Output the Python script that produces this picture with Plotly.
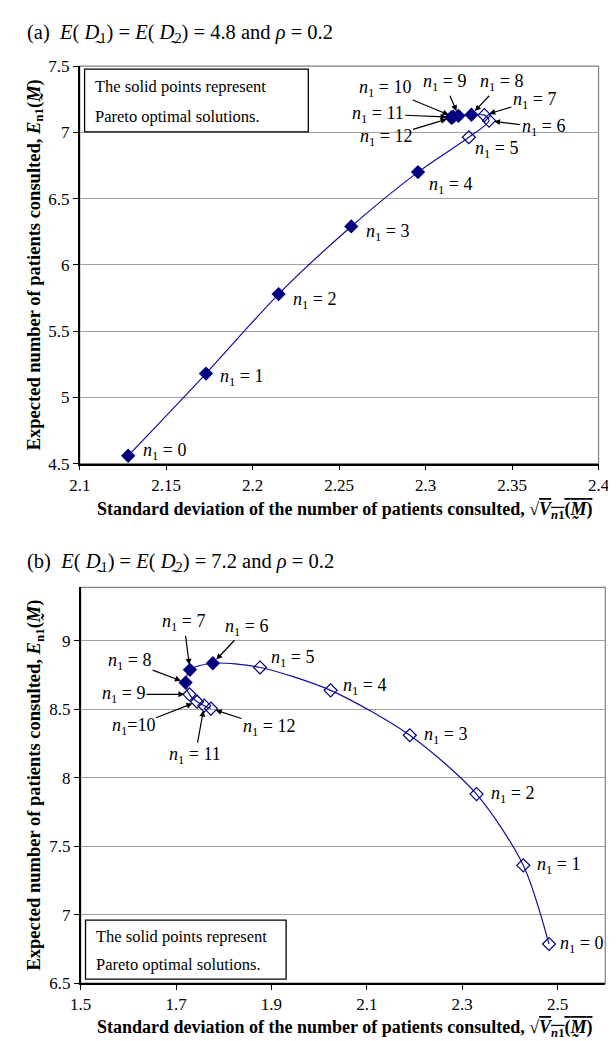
import plotly.graph_objects as go

# ---------------- data ----------------
n1_values = list(range(13))

# (a) E(D1)=E(D2)=4.8, rho=0.2
a_sd = [2.128, 2.173, 2.215, 2.257, 2.2956, 2.325, 2.3367, 2.334, 2.3265, 2.319, 2.316, 2.315, 2.315]
a_mean = [4.56, 5.18, 5.78, 6.29, 6.70, 6.963, 7.088, 7.13, 7.133, 7.125, 7.118, 7.115, 7.11]
a_pareto = [True, True, True, True, True, False, False, False, True, True, True, True, True]

# (b) E(D1)=E(D2)=7.2, rho=0.2
b_sd = [2.482, 2.428, 2.33, 2.19, 2.024, 1.876, 1.777, 1.729, 1.72, 1.728, 1.744, 1.759, 1.773]
b_mean = [6.785, 7.36, 7.88, 8.31, 8.638, 8.805, 8.836, 8.788, 8.695, 8.609, 8.555, 8.526, 8.505]
b_pareto = [False, False, False, False, False, False, True, True, True, False, False, False, False]

a_xticks = [2.1, 2.15, 2.2, 2.25, 2.3, 2.35, 2.4]
a_yticks = [4.5, 5, 5.5, 6, 6.5, 7, 7.5]
b_xticks = [1.5, 1.7, 1.9, 2.1, 2.3, 2.5]
b_yticks = [6.5, 7, 7.5, 8, 8.5, 9]

note_lines = ["The solid points represent", "Pareto optimal solutions."]

# ---------------- style ----------------
W, H = 616, 1041
FONT = "Liberation Serif, Times New Roman, serif"
LINE = "#10109a"
MARK = "#000080"
LBL = 18

def px_x(p):
    return p / W

def px_y(p):
    return 1 - p / H

fig = go.Figure()

def add_series(xs, ys, pareto, xa, ya):
    fig.add_trace(go.Scatter(x=xs, y=ys, mode="lines", line=dict(color=LINE, width=1.2, shape="spline", smoothing=0.8),
                             xaxis=xa, yaxis=ya, showlegend=False, hoverinfo="skip"))
    sx = [x for x, p in zip(xs, pareto) if p]
    sy = [y for y, p in zip(ys, pareto) if p]
    ox = [x for x, p in zip(xs, pareto) if not p]
    oy = [y for y, p in zip(ys, pareto) if not p]
    fig.add_trace(go.Scatter(x=ox, y=oy, mode="markers", xaxis=xa, yaxis=ya, showlegend=False,
                             marker=dict(symbol="diamond-open", size=10, color=MARK, line=dict(width=1.2, color=MARK))))
    fig.add_trace(go.Scatter(x=sx, y=sy, mode="markers", xaxis=xa, yaxis=ya, showlegend=False,
                             marker=dict(symbol="diamond", size=11, color=MARK, line=dict(width=0))))

add_series(a_sd, a_mean, a_pareto, "x", "y")
add_series(b_sd, b_mean, b_pareto, "x2", "y2")

# plot areas (pixels)
A = dict(l=63, r=601, t=50, b=455)
B = dict(l=64, r=608, t=581, b=984)

axis_common = dict(showline=True, linecolor="black", linewidth=1.5, ticks="outside", ticklen=5,
                   tickcolor="black", tickfont=dict(family=FONT, size=17, color="black"), zeroline=False)

fig.update_layout(
    width=W, height=H, margin=dict(l=0, r=0, t=0, b=0),
    paper_bgcolor="white", plot_bgcolor="white",
    xaxis=dict(domain=[px_x(A["l"]), px_x(A["r"])], range=[2.1, 2.4], tickvals=a_xticks,
               showgrid=False, anchor="y", **axis_common),
    yaxis=dict(domain=[px_y(A["b"]), px_y(A["t"])], range=[4.5, 7.5], tickvals=a_yticks,
               showgrid=True, gridcolor="#a0a0a0", gridwidth=1, anchor="x", **axis_common),
    xaxis2=dict(domain=[px_x(B["l"]), px_x(B["r"])], range=[1.5, 2.6], tickvals=b_xticks,
                showgrid=False, anchor="y2", **axis_common),
    yaxis2=dict(domain=[px_y(B["b"]), px_y(B["t"])], range=[6.5, 9.39], tickvals=b_yticks,
                showgrid=True, gridcolor="#a0a0a0", gridwidth=1, anchor="x2", **axis_common),
)

# gray frame (top/right) of each plot area
for xr, yr in (("x", "y"), ("x2", "y2")):
    fig.add_shape(type="rect", xref=f"{xr} domain", yref=f"{yr} domain", x0=0, x1=1, y0=0, y1=1,
                  line=dict(color="#808080", width=1.2), layer="below")

annots = []

def lab(n, eq=" = "):
    return f"<i>n</i><sub>1</sub>{eq}{n}"

# top labels without arrows: (n, dx, dy) offsets in px
a_plain = [(0, 36, -4), (1, 36, 4), (2, 36, 6), (3, 36, 6), (4, 32, 13), (5, 28, 12)]
for n, dx, dy in a_plain:
    annots.append(dict(x=a_sd[n], y=a_mean[n], xref="x", yref="y", text=lab(n), showarrow=False,
                       xshift=dx, yshift=-dy, font=dict(family=FONT, size=LBL, color="black")))
a_arrow = [(6, 54, 7), (7, 50, -15), (8, 30, -32), (9, -14, -33), (10, -68, -28), (11, -74, -3), (12, -66, 20)]
for n, dx, dy in a_arrow:
    annots.append(dict(x=a_sd[n], y=a_mean[n], xref="x", yref="y", ax=dx, ay=dy, text=lab(n), showarrow=True,
                       arrowhead=2, arrowsize=1, arrowwidth=1.2, arrowcolor="black", standoff=5,
                       font=dict(family=FONT, size=LBL, color="black")))

b_plain = [(0, 32, 0), (1, 35, 0), (2, 36, 0), (3, 36, 0), (4, 34, -4), (5, 32, -9)]
for n, dx, dy in b_plain:
    annots.append(dict(x=b_sd[n], y=b_mean[n], xref="x2", yref="y2", text=lab(n), showarrow=False,
                       xshift=dx, yshift=-dy, font=dict(family=FONT, size=LBL, color="black")))
b_arrow = [(6, 34, -36, " = "), (7, -6, -47, " = "), (8, -56, -21, " = "), (9, -66, 0, " = "),
           (10, -64, 25, "="), (11, -9, 50, " = "), (12, 58, 19, " = ")]
for n, dx, dy, eq in b_arrow:
    annots.append(dict(x=b_sd[n], y=b_mean[n], xref="x2", yref="y2", ax=dx, ay=dy, text=lab(n, eq), showarrow=True,
                       arrowhead=2, arrowsize=1, arrowwidth=1.2, arrowcolor="black", standoff=5,
                       font=dict(family=FONT, size=LBL, color="black")))

# titles
def title_text(tag, val):
    return (f"({tag})  <i>E</i>( <i>D\u0330</i><sub>1</sub>) = <i>E</i>( <i>D\u0330</i><sub>2</sub>) = {val}"
            f" and <i>\u03c1</i> = 0.2")

annots.append(dict(x=px_x(6), y=px_y(17), xref="paper", yref="paper", xanchor="left", yanchor="middle",
                   showarrow=False, font=dict(family=FONT, size=20.5, color="black"), text=title_text("a", "4.8")))
annots.append(dict(x=px_x(6), y=px_y(556), xref="paper", yref="paper", xanchor="left", yanchor="middle",
                   showarrow=False, font=dict(family=FONT, size=20.5, color="black"), text=title_text("b", "7.2")))

xtitle = ("<b>Standard deviation of the number of patients consulted, \u221a"
          "<span style='text-decoration:overline'><i>V</i><sub><i>n</i>1</sub>(<i>M\u0330</i>)</span></b>")
ytitle = "<b>Expected number of patients consulted, <i>E</i><sub>n1</sub>(<i>M\u0330</i>)</b>"
for yc in (503, 1030):
    annots.append(dict(x=px_x(338), y=px_y(yc), xref="paper", yref="paper", xanchor="center", yanchor="middle",
                       showarrow=False, font=dict(family=FONT, size=18, color="black"), text=xtitle))
for yc in ((50 + 455) / 2, (581 + 984) / 2):
    annots.append(dict(x=px_x(17), y=px_y(yc), xref="paper", yref="paper", xanchor="center", yanchor="middle",
                       showarrow=False, textangle=-90, font=dict(family=FONT, size=18.5, color="black"), text=ytitle))

# note boxes: (left, top, right, bottom) in px
for (l, t, r, b) in ((68, 53, 300, 117), (69, 920, 277, 980)):
    fig.add_shape(type="rect", xref="paper", yref="paper", x0=px_x(l), x1=px_x(r), y0=px_y(b), y1=px_y(t),
                  line=dict(color="black", width=1.3), fillcolor="white", layer="above")
    h = (b - t)
    for i, line in enumerate(note_lines):
        annots.append(dict(x=px_x(l + 9), y=px_y(t + h * (0.28 + 0.47 * i)), xref="paper", yref="paper",
                           xanchor="left", yanchor="middle", showarrow=False, text=line,
                           font=dict(family=FONT, size=16.5, color="black")))

fig.update_layout(annotations=annots)
fig.write_html("out.html")
